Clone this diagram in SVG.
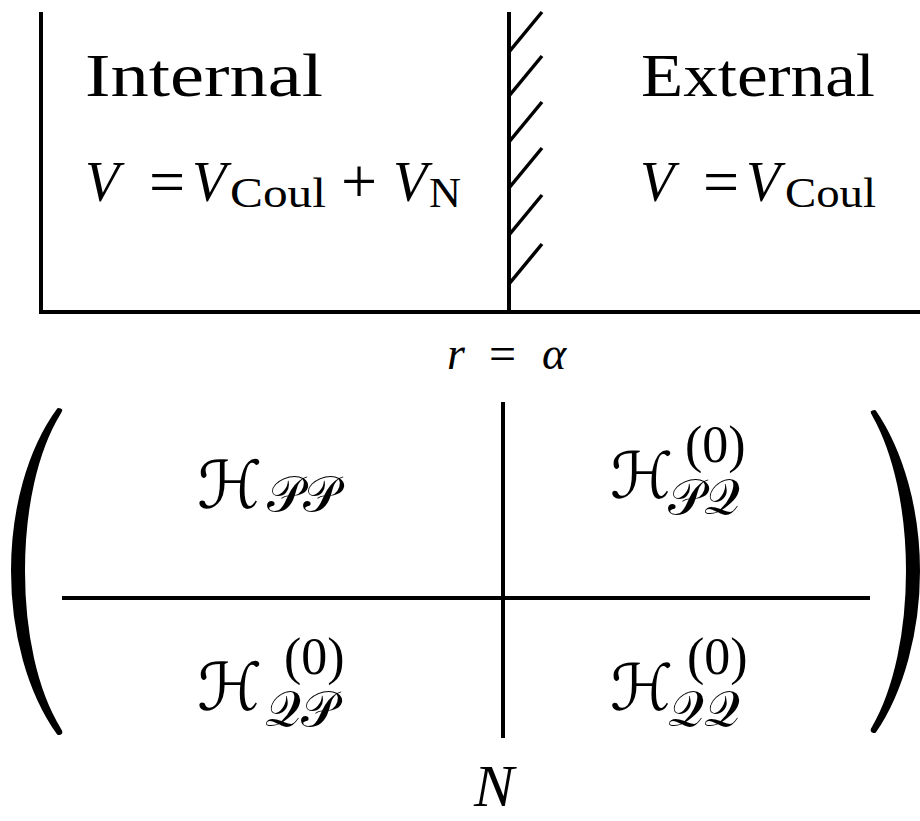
<svg xmlns="http://www.w3.org/2000/svg" width="920" height="821" viewBox="0 0 920 821">
<style>
.ln{stroke:#000;stroke-width:4;fill:none;stroke-linecap:butt}
.hat{stroke:#000;stroke-width:3.5;fill:none;stroke-linecap:butt}
.rm{font-family:"Liberation Serif","DejaVu Serif",serif;fill:#000}
.it{font-family:"Liberation Serif","DejaVu Serif",serif;font-style:italic;fill:#000}
.sc{font-family:"DejaVu Serif","DejaVu Sans",serif;fill:#000}
.par{fill:#000;stroke:#000;stroke-width:2;stroke-linejoin:round}
</style>
<rect width="920" height="821" fill="#fff"/>
<g id="connectors">
<line class="ln" x1="41" y1="12" x2="41" y2="314"/>
<line class="ln" x1="41" y1="312" x2="920" y2="312"/>
<line class="ln" x1="509" y1="12" x2="509" y2="312"/>
<g id="hatching">
<line class="hat" x1="509" y1="52" x2="542" y2="12"/>
<line class="hat" x1="509" y1="96" x2="542" y2="56"/>
<line class="hat" x1="509" y1="142" x2="542" y2="102"/>
<line class="hat" x1="509" y1="188" x2="542" y2="148"/>
<line class="hat" x1="509" y1="235" x2="542" y2="195"/>
<line class="hat" x1="509" y1="284" x2="542" y2="244"/>
</g>
<line class="ln" x1="503" y1="402" x2="503" y2="738"/>
<line class="ln" x1="62" y1="598" x2="870" y2="598"/>
</g>
<g id="internal">
<text class="rm" x="85" y="96" font-size="62" textLength="238" lengthAdjust="spacingAndGlyphs">Internal</text>
<text y="201"><tspan class="it" x="85" font-size="56">V</tspan><tspan class="rm" x="149" y="203" font-size="64">=</tspan><tspan class="it" x="192" y="201" font-size="56">V</tspan><tspan class="rm" x="230" y="207" font-size="42" textLength="96" lengthAdjust="spacingAndGlyphs">Coul</tspan><tspan class="rm" x="341" y="203" font-size="64">+</tspan><tspan class="it" x="393" y="201" font-size="56">V</tspan><tspan class="rm" x="429" y="207" font-size="42" textLength="32" lengthAdjust="spacingAndGlyphs">N</tspan></text>
</g>
<g id="external">
<text class="rm" x="641" y="96" font-size="62" textLength="234" lengthAdjust="spacingAndGlyphs">External</text>
<text y="201"><tspan class="it" x="640" font-size="56">V</tspan><tspan class="rm" x="703" y="203" font-size="64">=</tspan><tspan class="it" x="746" y="201" font-size="56">V</tspan><tspan class="rm" x="785" y="207" font-size="42" textLength="91" lengthAdjust="spacingAndGlyphs">Coul</tspan></text>
</g>
<g id="boundary">
<text y="369"><tspan class="it" x="447" font-size="46">r</tspan><tspan class="rm" x="489" y="370" font-size="48">=</tspan><tspan class="it" x="542" y="369" font-size="46">α</tspan></text>
</g>
<g id="matrix">
<path class="par" d="M58,409 C28,450 12,510 12,571 C12,632 28,692 58,734 C62,734 62,732 60,729 C36,690 24,632 24,571 C24,510 36,452 60,413 C62,410 62,409 58,409 Z"/>
<path class="par" d="M875,411 C903,452 919,511 919,571 C919,631 903,691 875,732 C871,732 871,730 873,727 C895,689 907,631 907,571 C907,511 895,454 873,415 C871,412 871,411 875,411 Z"/>
<g id="hpp"><text y="508"><tspan class="sc" x="197" font-size="66">ℋ</tspan><tspan class="sc" x="267" y="511" font-size="50">𝒫𝒫</tspan></text></g>
<g id="hpq"><text y="498"><tspan class="sc" x="610" font-size="64">ℋ</tspan><tspan class="rm" x="685" y="462" font-size="52">(0)</tspan><tspan class="sc" x="668" y="514" font-size="50">𝒫𝒬</tspan></text></g>
<g id="hqp"><text y="710"><tspan class="sc" x="197" font-size="66">ℋ</tspan><tspan class="rm" x="284" y="674" font-size="52">(0)</tspan><tspan class="sc" x="265" y="726" font-size="50">𝒬𝒫</tspan></text></g>
<g id="hqq"><text y="710"><tspan class="sc" x="610" font-size="64">ℋ</tspan><tspan class="rm" x="687" y="674" font-size="52">(0)</tspan><tspan class="sc" x="668" y="726" font-size="50">𝒬𝒬</tspan></text></g>
<g id="n-label"><text class="it" x="474" y="806" font-size="60">N</text></g>
</g>
</svg>
